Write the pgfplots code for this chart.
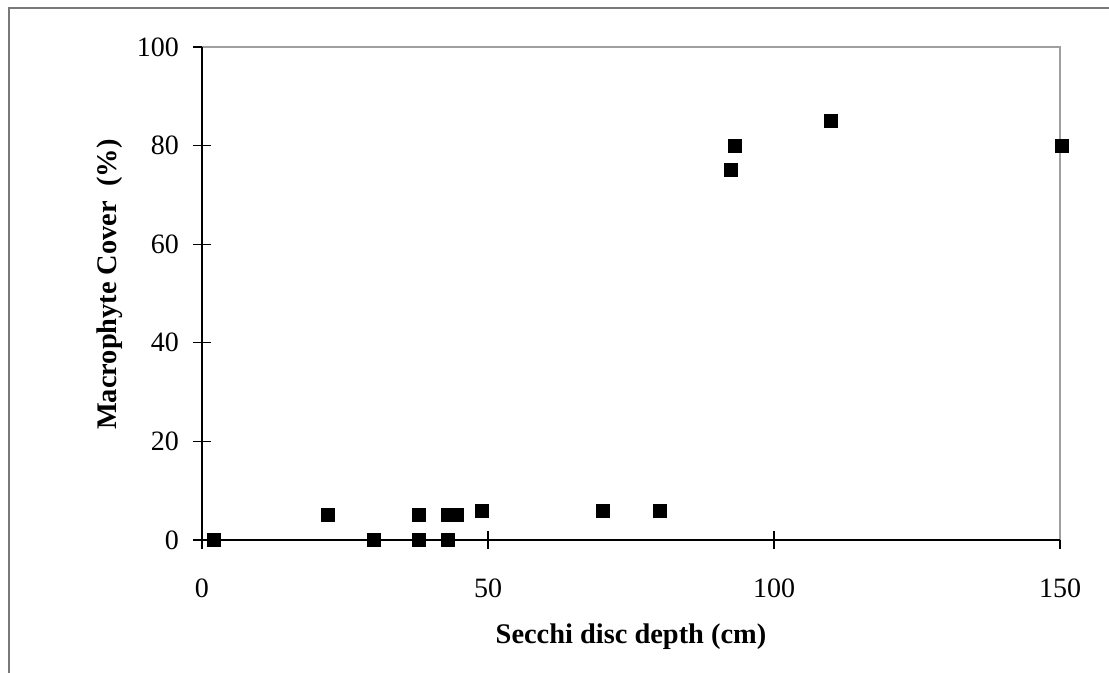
\documentclass[border=0pt]{standalone}
\usepackage{pgfplots}
\pgfplotsset{compat=1.18}
\usepackage{fontspec}
\setmainfont{Liberation Serif}
\begin{document}
\begin{tikzpicture}
\useasboundingbox (0pt,0pt) rectangle (554.5pt,336.5pt);
\draw[line width=1pt, color=gray!95!black] (4.25pt,0pt) -- (4.25pt,332.25pt) -- (554.5pt,332.25pt);
\begin{axis}[
  at={(101pt,66.5pt)}, anchor=origin,
  scale only axis, width=429pt, height=246.5pt,
  xmin=0, xmax=150, ymin=0, ymax=100,
  xtick={0,50,100,150}, ytick={0,20,40,60,80,100},
  axis line style={draw=none},
  tick align=center, major tick length=9pt,
  tick style={black, line width=0.6pt},
  xtick pos=bottom, ytick pos=left,
  font=\fontsize{14}{17}\selectfont,
  /pgf/number format/assume math mode=true,
  ticklabel style={font=\fontsize{14}{17}\selectfont},
  xticklabel style={yshift=-11.5pt},
  yticklabel style={xshift=-3.5pt},
  xlabel={\textbf{Secchi disc depth (cm)}},
  ylabel={\textbf{Macrophyte Cover\ \ (\%)}},
  xlabel style={at={(axis description cs:0.5,-0.196)}, anchor=center, font=\fontsize{14.2}{17}\selectfont},
  ylabel style={at={(axis description cs:-0.107,0.518)}, anchor=center, font=\fontsize{14.2}{17}\selectfont},
  clip=false,
]
\draw[color=gray!75, line width=0.7pt] (axis cs:0,100) -- (axis cs:150,100) -- (axis cs:150,0);
\draw[black, line width=0.7pt] (axis cs:0,0) -- (axis cs:150,0);
\draw[black, line width=0.7pt] (axis cs:0,0) -- (axis cs:0,100);
\addplot[only marks, mark=square*, mark size=3.25pt, mark options={fill=black, draw=black}] coordinates {
(2,0) (22,5) (30,0) (38,5) (38,0) (43,0) (43,5) (44.5,5) (49,6) (70,6) (80,6) (92.4,75) (93.2,80) (110,85) (150.3,80)
};
\end{axis}
\end{tikzpicture}
\end{document}
